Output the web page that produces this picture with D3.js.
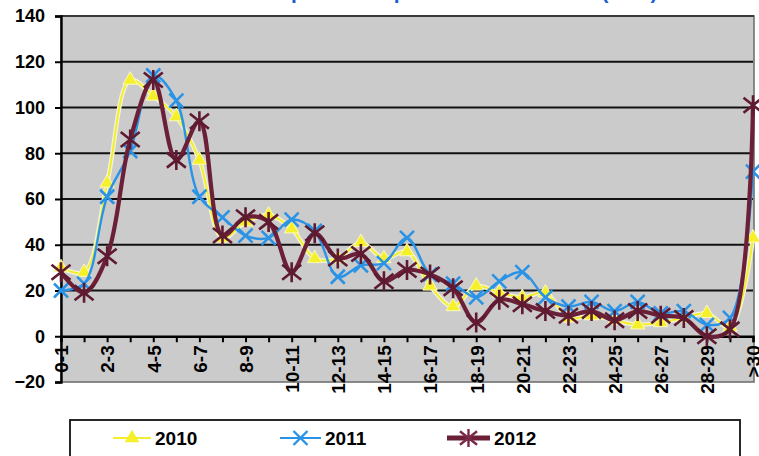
<!DOCTYPE html>
<html><head><meta charset="utf-8">
<script src="https://cdn.jsdelivr.net/npm/d3@7"></script>
<style>
html,body{margin:0;padding:0;background:#fff;}
svg{display:block;}
</style></head>
<body>
<svg id="chart" width="759" height="456"></svg>
<script>
const categories = ["0-1","1-2","2-3","3-4","4-5","5-6","6-7","7-8","8-9","9-10","10-11","11-12","12-13","13-14","14-15","15-16","16-17","17-18","18-19","19-20","20-21","21-22","22-23","23-24","24-25","25-26","26-27","27-28","28-29","29-30",">30"];
const values2010 = [30,28,67,112,105,96,77,43,50,53,47,34,34,41,34,37,22,13,22,19,17,19,8,9,7,5,6,8,10,4,43];
const values2011 = [20,23,61,81,114,103,61,52,44,43,51,46,26,31,32,43,27,23,17,24,28,17,13,15,11,15,10,11,5,8,72];
const values2012 = [28,19,35,86,112,77,94,44,52,50,28,45,34,36,24,29,27,21,6,16,14,11,9,11,7,11,9,8,0,3,101];
const yTicks = [-20,0,20,40,60,80,100,120,140];
const seriesNames = ["2010","2011","2012"];
const titleText = "Distribución de pacientes por días de estancia (días)";

const svg = d3.select("#chart");
const L = 61, R = 754, T = 16, B = 382;
const x = d3.scalePoint().domain(categories).range([L, 753]).padding(0);
const y = d3.scaleLinear().domain([-20, 140]).range([B, T]);

// title (mostly cut off at top)
svg.append("text").attr("x", 395).attr("y", -1).attr("text-anchor", "middle")
  .attr("font-family", "Liberation Sans, Arial, sans-serif").attr("font-weight", "bold")
  .attr("font-size", 21).attr("fill", "#1a5fd0").text(titleText);

// plot area
svg.append("rect").attr("x", L).attr("y", T).attr("width", R - L).attr("height", B - T)
  .attr("fill", "#cbcbcb").attr("stroke", "#6a6a6a").attr("stroke-width", 1.5);
svg.append("line").attr("x1", L).attr("x2", R).attr("y1", T).attr("y2", T)
  .attr("stroke", "#3a3a3a").attr("stroke-width", 2);

// gridlines
svg.append("g").selectAll("line").data(yTicks.filter(d => d > 0 && d < 140)).join("line")
  .attr("x1", L).attr("x2", R - 1).attr("y1", d => y(d)).attr("y2", d => y(d))
  .attr("stroke", "#111").attr("stroke-width", 2.2);

// y axis
const yAxis = svg.append("g").attr("transform", `translate(${L},0)`)
  .call(d3.axisLeft(y).tickValues(yTicks).tickSize(6).tickPadding(10).tickFormat(d3.format("d")));
yAxis.select(".domain").attr("stroke", "#000").attr("stroke-width", 2.4);
yAxis.selectAll(".tick line").attr("stroke", "#000").attr("stroke-width", 2);
yAxis.selectAll(".tick text").attr("font-family", "Liberation Sans, Arial, sans-serif")
  .attr("font-weight", "bold").attr("font-size", 18).attr("fill", "#000");

// x axis at y=0
const xAxis = svg.append("g").attr("transform", `translate(0,${y(0)})`)
  .call(d3.axisBottom(x).tickSize(6).tickPadding(4).tickFormat((d, i) => i % 2 === 0 ? d : ""));
xAxis.select(".domain").attr("stroke", "#000").attr("stroke-width", 2.4);
xAxis.selectAll(".tick line").attr("stroke", "#000").attr("stroke-width", 2);
xAxis.selectAll(".tick text")
  .attr("font-family", "Liberation Sans, Arial, sans-serif").attr("font-weight", "bold")
  .attr("font-size", 19).attr("fill", "#000")
  .attr("text-anchor", "end").attr("transform", "rotate(-90)")
  .attr("x", -9).attr("y", 0).attr("dy", "0.36em");

// series
const curve = d3.curveCatmullRom.alpha(0.5);
const lineGen = d3.line().x((d, i) => x(categories[i])).y(d => y(d)).curve(curve);

function triPath(s) { return d3.symbol(d3.symbolTriangle, s)(); }
function xPath(r) { return `M${-r},${-r}L${r},${r}M${-r},${r}L${r},${-r}`; }
function starPath(r) { const a = r * 0.95, b = r * 0.75; return `M${-a},${-b}L${a},${b}M${-a},${b}L${a},${-b}M0,${-r}L0,${r}`; }

// 2010
const g10 = svg.append("g");
g10.append("path").attr("d", lineGen(values2010)).attr("fill", "none").attr("stroke", "#f4f4dc").attr("stroke-width", 4.5);
g10.append("path").attr("d", lineGen(values2010)).attr("fill", "none").attr("stroke", "#f2ee2a").attr("stroke-width", 2);
g10.selectAll("path.m").data(values2010).join("path").attr("class", "m")
  .attr("transform", (d, i) => `translate(${x(categories[i])},${y(d)})`)
  .attr("d", triPath(90)).attr("fill", "#f6f02a").attr("stroke", "#fbf9c0").attr("stroke-width", 1);

// 2011
const g11 = svg.append("g");
g11.append("path").attr("d", lineGen(values2011)).attr("fill", "none").attr("stroke", "#2a93e6").attr("stroke-width", 2.4);
g11.selectAll("path.m").data(values2011).join("path").attr("class", "m")
  .attr("transform", (d, i) => `translate(${x(categories[i])},${y(d)})`)
  .attr("d", xPath(7)).attr("fill", "none").attr("stroke", "#2a93e6").attr("stroke-width", 2.6);

// 2012
const g12 = svg.append("g");
g12.append("path").attr("d", lineGen(values2012)).attr("fill", "none").attr("stroke", "#6b2038").attr("stroke-width", 4.2);
g12.selectAll("path.m").data(values2012).join("path").attr("class", "m")
  .attr("transform", (d, i) => `translate(${x(categories[i])},${y(d)})`)
  .attr("d", starPath(10)).attr("fill", "none").attr("stroke", "#5e1a30").attr("stroke-width", 2.6);

// legend
const lg = svg.append("g");
lg.append("rect").attr("x", 70).attr("y", 420).attr("width", 670).attr("height", 50)
  .attr("fill", "#fff").attr("stroke", "#111").attr("stroke-width", 1.8);
const legendItems = [
  { name: seriesNames[0], x1: 113, x2: 151, color: "#f2ee2a", w: 2, marker: triPath(90), fill: "#f6f02a", mstroke: "none", mw: 0 },
  { name: seriesNames[1], x1: 280, x2: 321, color: "#2a93e6", w: 2.2, marker: xPath(7), fill: "none", mstroke: "#2a93e6", mw: 2.4 },
  { name: seriesNames[2], x1: 447, x2: 490, color: "#6b2038", w: 5, marker: starPath(9), fill: "none", mstroke: "#7a2a48", mw: 2.4 }
];
legendItems.forEach(it => {
  const ly = 438;
  lg.append("line").attr("x1", it.x1).attr("x2", it.x2).attr("y1", ly).attr("y2", ly)
    .attr("stroke", it.color).attr("stroke-width", it.w);
  lg.append("path").attr("transform", `translate(${(it.x1 + it.x2) / 2},${ly})`).attr("d", it.marker)
    .attr("fill", it.fill).attr("stroke", it.mstroke).attr("stroke-width", it.mw);
  lg.append("text").attr("x", it.x2 + 4).attr("y", 445)
    .attr("font-family", "Liberation Sans Narrow, Liberation Sans, Arial, sans-serif")
    .attr("font-weight", "bold").attr("font-size", 19).attr("fill", "#000").text(it.name);
});
</script>
</body></html>
